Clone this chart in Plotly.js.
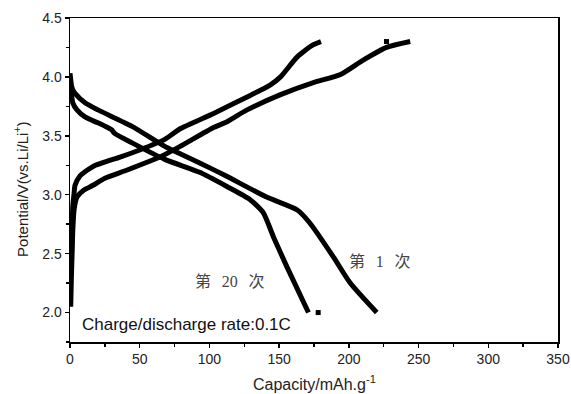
<!DOCTYPE html>
<html>
<head>
<meta charset="utf-8">
<script src="https://cdn.plot.ly/plotly-3.0.1.min.js"></script>
<style>html,body{margin:0;padding:0;background:#fff;}#chart{width:571px;height:394px;}</style>
</head>
<body>
<div id="chart"></div>
<script>
// 1st cycle charge
const charge1X = [0.5, 1, 1.5, 2, 3, 5, 10, 16.5, 25, 41, 64.5, 79, 103, 111, 127, 151, 174, 194, 210, 227, 244];
const charge1Y = [2.05, 2.3, 2.5, 2.7, 2.88, 2.98, 3.04, 3.08, 3.14, 3.21, 3.32, 3.41, 3.57, 3.61, 3.72, 3.85, 3.95, 4.02, 4.14, 4.25, 4.30];
// 20th cycle charge
const charge20X = [1, 1.5, 2, 3, 3.6, 7.2, 16.5, 36, 50, 68, 79, 103, 127, 143.5, 151, 163, 174, 180];
const charge20Y = [2.45, 2.7, 2.9, 3.02, 3.08, 3.16, 3.24, 3.32, 3.38, 3.47, 3.56, 3.69, 3.83, 3.93, 4.0, 4.17, 4.27, 4.30];
// 1st cycle discharge
const discharge1X = [0, 0.5, 1, 2, 3.6, 10.8, 20, 44.5, 68, 93, 111, 141, 163, 172, 189, 201, 220];
const discharge1Y = [4.03, 3.98, 3.93, 3.89, 3.86, 3.78, 3.72, 3.58, 3.41, 3.27, 3.165, 2.98, 2.87, 2.76, 2.47, 2.25, 2.0];
// 20th cycle discharge
const discharge20X = [0, 0.5, 1, 2, 5, 10.8, 20, 27, 30, 32, 44.5, 68, 93, 112.5, 129, 138.5, 146, 155.5, 171];
const discharge20Y = [4.0, 3.92, 3.86, 3.78, 3.72, 3.66, 3.61, 3.57, 3.55, 3.52, 3.44, 3.30, 3.19, 3.07, 2.96, 2.85, 2.64, 2.39, 2.0];
// stray points
const strayX = [227, 178];
const strayY = [4.30, 2.0];

const xTicks = [0, 50, 100, 150, 200, 250, 300, 350];
const yTicks = [2.0, 2.5, 3.0, 3.5, 4.0, 4.5];

const lineStyle = {color: '#000', width: 5, shape: 'spline', smoothing: 0.6};
const traces = [
  {x: charge1X, y: charge1Y, mode: 'lines', line: lineStyle, name: 'c1'},
  {x: charge20X, y: charge20Y, mode: 'lines', line: lineStyle, name: 'c20'},
  {x: discharge1X, y: discharge1Y, mode: 'lines', line: lineStyle, name: 'd1'},
  {x: discharge20X, y: discharge20Y, mode: 'lines', line: lineStyle, name: 'd20'},
  {x: strayX, y: strayY, mode: 'markers', marker: {color: '#000', size: 5, symbol: 'square'}, name: 's'}
];

const cjk = {family: '"Noto Sans CJK SC", sans-serif', size: 16, color: '#444'};
const layout = {
  width: 571, height: 394,
  margin: {l: 70, r: 13, t: 18, b: 52},
  showlegend: false,
  paper_bgcolor: '#fff', plot_bgcolor: '#fff',
  font: {family: 'Arial, "Liberation Sans", sans-serif', size: 14, color: '#222'},
  xaxis: {
    range: [0, 350], tickvals: xTicks, ticktext: xTicks.map(String),
    showgrid: false, zeroline: false,
    showline: true, linecolor: '#000', linewidth: 1.5, mirror: true,
    ticks: 'outside', ticklen: 4, tickwidth: 1.5, tickcolor: '#000',
    minor: {dtick: 25, tick0: 0, ticks: 'outside', ticklen: 3, tickwidth: 1.5, tickcolor: '#000', showgrid: false},
    tickfont: {size: 14, color: '#222'}
  },
  yaxis: {
    range: [1.75, 4.5], tickvals: yTicks, ticktext: yTicks.map(v => v.toFixed(1)),
    showgrid: false, zeroline: false,
    showline: true, linecolor: '#000', linewidth: 1.5, mirror: true,
    ticks: 'outside', ticklen: 4, tickwidth: 1.5, tickcolor: '#000',
    minor: {dtick: 0.25, tick0: 1.75, ticks: 'outside', ticklen: 3, tickwidth: 1.5, tickcolor: '#000', showgrid: false},
    tickfont: {size: 14, color: '#222'}
  },
  annotations: [
    {x: 0.5, y: -0.128, xref: 'paper', yref: 'paper', xanchor: 'center', yanchor: 'middle',
     text: 'Capacity/mAh.g<sup>-1</sup>', showarrow: false, font: {size: 16, color: '#222'}},
    {x: -0.1, y: 0.47, xref: 'paper', yref: 'paper', xanchor: 'center', yanchor: 'middle',
     text: 'Potential/V(vs.Li/Li<sup>+</sup>)', showarrow: false, textangle: -90, font: {size: 15, color: '#222'}},
    {x: 115, y: 2.28, xref: 'x', yref: 'y', text: '第&nbsp;&nbsp;&nbsp;<span style="font-family:Liberation Serif">20</span>&nbsp;&nbsp;&nbsp;次', showarrow: false,
     font: cjk},
    {x: 222, y: 2.45, xref: 'x', yref: 'y', text: '第&nbsp;&nbsp;&nbsp;<span style="font-family:Liberation Serif">1</span>&nbsp;&nbsp;&nbsp;次', showarrow: false,
     font: cjk},
    {x: 7.5, y: 1.9, xref: 'x', yref: 'y', xanchor: 'left', text: 'Charge/discharge rate:0.1C', showarrow: false,
     font: {size: 17, color: '#111'}}
  ]
};

Plotly.newPlot('chart', traces, layout, {displayModeBar: false, staticPlot: true});
</script>
</body>
</html>
